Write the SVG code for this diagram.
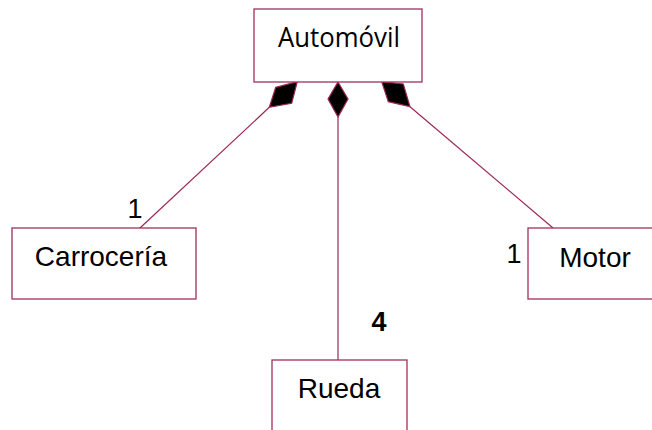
<svg xmlns="http://www.w3.org/2000/svg" width="652" height="430" viewBox="0 0 652 430">
<style>
.box{fill:#ffffff;stroke:#a0305f;stroke-width:1.3}
.ln{fill:none;stroke:#9a2855;stroke-width:1.2}
.dia{fill:#000000;stroke:#9a2855;stroke-width:1.2;stroke-linejoin:miter}
.lbl{font-family:"Liberation Sans",Arial,sans-serif;font-size:28px;fill:#000000;text-anchor:middle}
.seg{font-family:"Open Sans","Noto Sans",sans-serif;font-size:28px;fill:#000000;text-anchor:middle}
.mul{font-family:"Liberation Sans",Arial,sans-serif;font-size:27px;fill:#000000;text-anchor:middle}
</style>
<rect width="652" height="430" fill="#ffffff"/>
<g id="connectors">
<line class="ln" x1="140" y1="228" x2="269.3" y2="107.3"/>
<line class="ln" x1="338" y1="117" x2="338" y2="360"/>
<line class="ln" x1="410" y1="106.7" x2="553" y2="228"/>
<polygon class="dia" points="275.7,87.3 297.3,81.7 291.7,103.3 269.3,107.3"/>
<polygon class="dia" points="338,82 348,99 338,117 328,99"/>
<polygon class="dia" points="381.7,81.7 403.3,84 410,106.7 388.3,101.7"/>
<text class="mul" x="135" y="218">1</text>
<text class="mul" x="514" y="263">1</text>
<text class="mul" x="379" y="331" font-weight="bold">4</text>
</g>
<g id="automovil">
<rect class="box" x="254" y="9" width="168" height="73"/>
<text class="seg" x="339" y="47" textLength="122" lengthAdjust="spacingAndGlyphs">Automóvil</text>
</g>
<g id="carroceria">
<rect class="box" x="12" y="228" width="184" height="71"/>
<text class="lbl" x="101" y="266">Carrocería</text>
</g>
<g id="motor">
<rect class="box" x="528" y="228" width="140" height="71"/>
<text class="lbl" x="595" y="267">Motor</text>
</g>
<g id="rueda">
<rect class="box" x="272" y="360" width="135" height="90"/>
<text class="lbl" x="339" y="398">Rueda</text>
</g>
</svg>
